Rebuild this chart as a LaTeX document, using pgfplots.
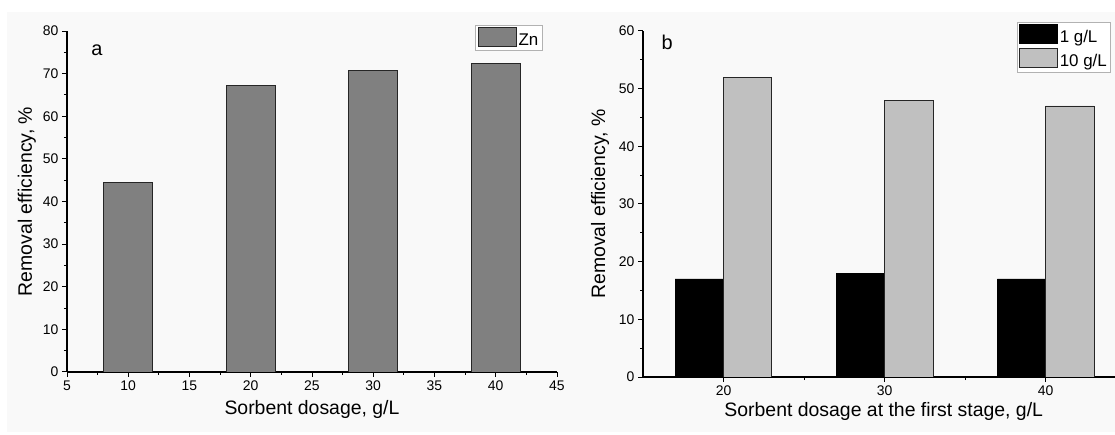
\documentclass[border=0pt]{standalone}
\usepackage{fontspec}
\setmainfont{Liberation Sans}
\usepackage{pgfplots}
\pgfplotsset{compat=1.18}
\definecolor{barA}{HTML}{808080}
\definecolor{barB}{HTML}{C0C0C0}
\definecolor{bgc}{HTML}{F9F9F9}
\newcommand{\tickfont}{\fontsize{14}{16}\selectfont}
\pgfplotsset{
  common/.style={
    scale only axis,
    axis x line*=bottom,
    axis y line*=left,
    axis line style={line width=1.2bp},
    tick align=outside,
    major tick length=5bp,
    minor tick length=3bp,
    every tick/.style={black, line width=1bp},
    minor tick num=1,
    xticklabel={\tickfont\pgfmathprintnumber[assume math mode=true]{\tick}},
    yticklabel={\tickfont\pgfmathprintnumber[assume math mode=true]{\tick}},
    tick label style={font=\tickfont},
    label style={font=\fontsize{19.5}{23}\selectfont},
    legend style={font=\fontsize{17}{19}\selectfont, draw=gray!60, line width=0.8bp,
      inner sep=2bp, row sep=2bp, cells={anchor=west}, fill=white,
      /tikz/every even column/.append style={column sep=3bp}},
    legend image code/.code={\draw[##1, line width=0.8bp] (0bp,-6.5bp) rectangle (38bp,12.5bp);},
  },
}
\begin{document}
\begin{tikzpicture}
\useasboundingbox (0,0) rectangle (1115bp,435bp);
\fill[bgc] (7bp,3bp) rectangle (1115bp,423bp);
% Panel a
\begin{axis}[common,
  at={(67bp,63bp)}, anchor=south west,
  width=490bp, height=341bp,
  xmin=5, xmax=45, ymin=0, ymax=80,
  xtick={5,10,...,45}, ytick={0,10,...,80},
  xlabel={Sorbent dosage, g/L},
  ylabel={Removal efficiency, \%},
  xlabel style={at={(axis description cs:0.5,-0.111)}, anchor=center},
  ylabel style={at={(axis description cs:-0.082,0.5)}, anchor=center},
  legend style={at={(0.971,1.018)}, anchor=north east},
]
\addplot[ybar, bar width=4, fill=barA, draw=black!85, line width=0.8bp] coordinates {
  (10,44.5) (20,67.2) (30,70.7) (40,72.3)};
\addlegendentry{Zn}
\node[font=\fontsize{20}{24}\selectfont] at (axis cs:7.45,75.6) {a};
\end{axis}
% Panel b
\begin{axis}[common,
  at={(643bp,58bp)}, anchor=south west,
  width=472bp, height=346bp,
  xmin=15, xmax=44.3, ymin=0, ymax=60,
  xtick={20,30,40}, ytick={0,10,...,60},
  xlabel={Sorbent dosage at the first stage, g/L},
  ylabel={Removal efficiency, \%},
  xlabel style={at={(axis description cs:0.51,-0.101)}, anchor=center},
  ylabel style={at={(axis description cs:-0.091,0.5)}, anchor=center},
  legend style={at={(0.992,1.026)}, anchor=north east},
]
\addplot[ybar, bar width=3, bar shift=-1.5, fill=black, draw=black, line width=0.8bp] coordinates {
  (20,17) (30,18) (40,17)};
\addlegendentry{1 g/L}
\addplot[ybar, bar width=3, bar shift=1.5, fill=barB, draw=black!85, line width=0.8bp] coordinates {
  (20,52) (30,48) (40,47)};
\addlegendentry{10 g/L}
\node[font=\fontsize{20}{24}\selectfont] at (axis cs:16.5,58) {b};
\end{axis}
\end{tikzpicture}
\end{document}
